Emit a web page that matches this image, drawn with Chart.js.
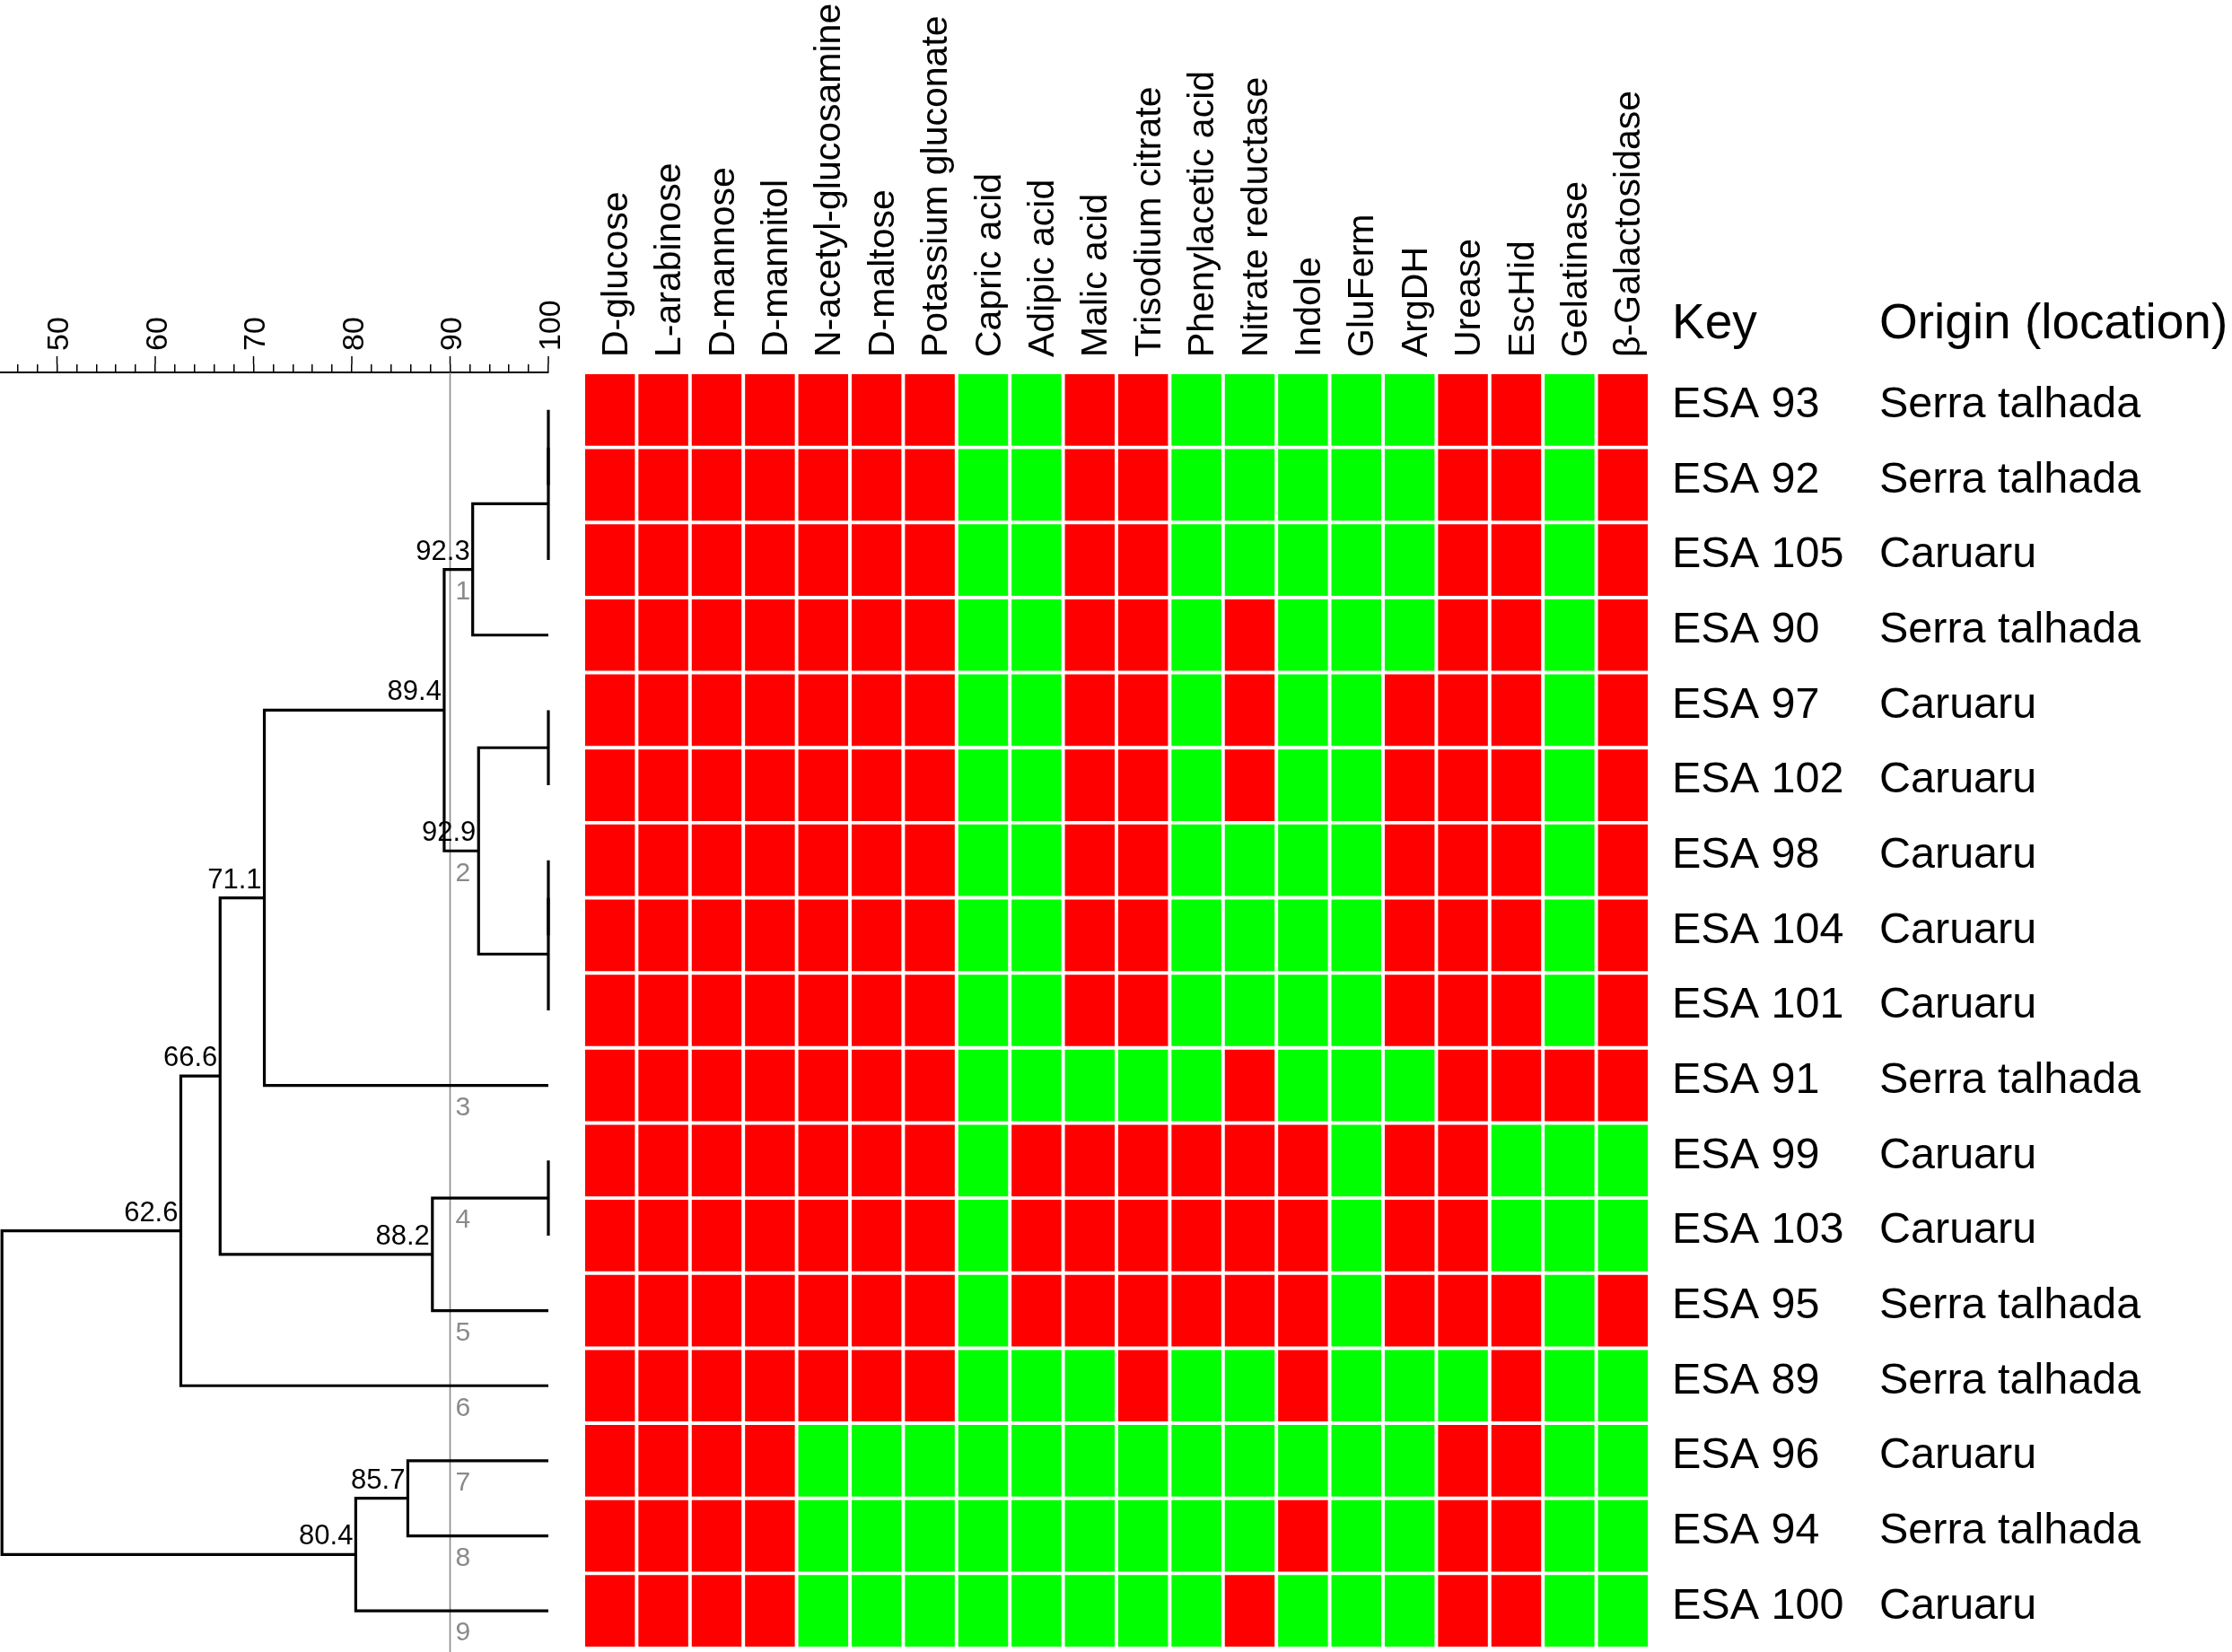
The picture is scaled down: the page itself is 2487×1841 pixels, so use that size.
<!DOCTYPE html>
<html>
<head>
<meta charset="utf-8">
<title>Biochemical profiles and UPGMA dendrogram</title>
<script src="https://cdn.jsdelivr.net/npm/chart.js@4.4.1/dist/chart.umd.min.js"></script>
<style>
  html, body { margin: 0; padding: 0; background: #fff; }
  #wrap { position: relative; width: 2487px; height: 1841px; }
  canvas { position: absolute; left: 0; top: 0; }
</style>
</head>
<body>
<div id="wrap">
  <canvas id="heat" width="2487" height="1841"></canvas>
  <canvas id="tree" width="650" height="1841"></canvas>
</div>
<script>
// ---- data ----
const tests = ["D-glucose", "L-arabinose", "D-mannose", "D-mannitol", "N-acetyl-glucosamine",
  "D-maltose", "Potassium gluconate", "Capric acid", "Adipic acid", "Malic acid",
  "Trisodium citrate", "Phenylacetic acid", "Nitrate reductase", "Indole", "GluFerm",
  "ArgDH", "Urease", "EscHid", "Gelatinase", "β-Galactosidase"];

const keys = ["ESA 93", "ESA 92", "ESA 105", "ESA 90", "ESA 97", "ESA 102", "ESA 98", "ESA 104",
  "ESA 101", "ESA 91", "ESA 99", "ESA 103", "ESA 95", "ESA 89", "ESA 96", "ESA 94", "ESA 100"];

const origins = ["Serra talhada", "Serra talhada", "Caruaru", "Serra talhada", "Caruaru", "Caruaru",
  "Caruaru", "Caruaru", "Caruaru", "Serra talhada", "Caruaru", "Caruaru", "Serra talhada",
  "Serra talhada", "Caruaru", "Serra talhada", "Caruaru"];

// one string per strain, one digit per test: 1 = red cell, 0 = green cell
const results = [
  "11111110011000001101", // ESA 93
  "11111110011000001101", // ESA 92
  "11111110011000001101", // ESA 105
  "11111110011010001101", // ESA 90
  "11111110011010011101", // ESA 97
  "11111110011010011101", // ESA 102
  "11111110011000011101", // ESA 98
  "11111110011000011101", // ESA 104
  "11111110011000011101", // ESA 101
  "11111110000010001111", // ESA 91
  "11111110111111011000", // ESA 99
  "11111110111111011000", // ESA 103
  "11111110111111011101", // ESA 95
  "11111110001001000100", // ESA 89
  "11110000000000001100", // ESA 96
  "11110000000001001100", // ESA 94
  "11110000000010001100"  // ESA 100
];

// dendrogram merges: [child a, child b, similarity %]; ids >= 17 are earlier merges
const merges = [
  [0, 1, 100], [17, 2, 100], [18, 3, 92.3],
  [4, 5, 100], [6, 7, 100], [21, 8, 100], [20, 22, 92.9],
  [19, 23, 89.4], [24, 9, 71.1],
  [10, 11, 100], [26, 12, 88.2], [25, 27, 66.6], [28, 13, 62.6],
  [14, 15, 85.7], [30, 16, 80.4],
  [29, 31, 44.4]
];

const axisTicks = [46, 48, 50, 52, 54, 56, 58, 60, 62, 64, 66, 68, 70, 72, 74, 76, 78, 80,
  82, 84, 86, 88, 90, 92, 94, 96, 98, 100];
const cutoff = 90;

// ---- setup ----
const FONT = '"Liberation Sans", Arial, Helvetica, sans-serif';
Chart.defaults.font.family = FONT;
Chart.defaults.color = "#000";

const RED = "#ff0000";
const GREEN = "#00ff00";
const TOP = 415;    // height of header band (axis labels)

// build tree nodes (y in row units, 0 = top)
const nodes = keys.map((k, i) => ({ sim: 100, y: i + 0.5, leaf: true }));
merges.forEach(([a, b, s]) => {
  const id = nodes.length;
  nodes.push({ a, b, sim: s, y: (nodes[a].y + nodes[b].y) / 2, leaf: false });
  nodes[a].parent = id;
  nodes[b].parent = id;
});
const rootId = nodes.length - 1;

// branches cut by the similarity cutoff -> cluster numbers
const clusters = nodes
  .filter(n => n.parent !== undefined && n.sim >= cutoff && nodes[n.parent].sim < cutoff)
  .sort((p, q) => p.y - q.y);

// ---- heatmap ----
const heatSets = results.map((row, r) => ({
  data: tests.map(() => [r, r + 1]),
  backgroundColor: row.split("").map(c => (c === "1" ? RED : GREEN)),
  borderColor: "#fff",
  borderWidth: 2.3,
  borderSkipped: false,
  grouped: false,
  barPercentage: 1,
  categoryPercentage: 1
}));

const headerText = {
  id: "headerText",
  afterDraw(chart) {
    const { ctx } = chart;
    const k = chart.scales.yKey;
    const o = chart.scales.yOrigin;
    ctx.save();
    ctx.font = "55px " + FONT;
    ctx.fillStyle = "#000";
    ctx.textBaseline = "alphabetic";
    ctx.textAlign = "left";
    ctx.fillText("Key", k.left + k.options.ticks.padding, chart.chartArea.top - 38);
    ctx.fillText("Origin (location)", o.left + o.options.ticks.padding, chart.chartArea.top - 38);
    ctx.restore();
  }
};

const noPad = s => { s.paddingTop = 0; s.paddingBottom = 0; s.paddingLeft = 0; s.paddingRight = 0; };

new Chart(document.getElementById("heat"), {
  type: "bar",
  data: { labels: tests, datasets: heatSets },
  options: {
    responsive: false,
    animation: false,
    events: [],
    layout: { padding: { left: 650, right: 0, top: 0, bottom: 4 } },
    plugins: { legend: { display: false }, tooltip: { enabled: false } },
    scales: {
      x: {
        type: "category",
        position: "top",
        offset: true,
        grid: { display: false, drawTicks: false },
        border: { display: false },
        ticks: { autoSkip: false, minRotation: 90, maxRotation: 90, padding: 17, labelOffset: 57,
                 font: { size: 41 }, color: "#000" },
        afterFit: s => { s.height = TOP; noPad(s); }
      },
      y: { type: "linear", display: false, min: 0, max: keys.length, reverse: true },
      yKey: {
        type: "category",
        labels: keys,
        position: "right",
        offset: true,
        weight: 0,
        grid: { display: false, drawTicks: false },
        border: { display: false },
        ticks: { autoSkip: false, padding: 25, labelOffset: -5, font: { size: 48.5 }, color: "#000" },
        afterFit: s => { s.width = 256; noPad(s); }
      },
      yOrigin: {
        type: "category",
        labels: origins,
        position: "right",
        offset: true,
        weight: 1,
        grid: { display: false, drawTicks: false },
        border: { display: false },
        ticks: { autoSkip: false, padding: 0, labelOffset: -5, font: { size: 48.5 }, color: "#000" },
        afterFit: s => { s.width = 393; noPad(s); }
      }
    }
  },
  plugins: [headerText]
});

// ---- dendrogram ----
const treeSets = nodes.filter(n => !n.leaf).map(n => ({
  data: [
    { x: nodes[n.a].sim, y: nodes[n.a].y },
    { x: n.sim, y: nodes[n.a].y },
    { x: n.sim, y: nodes[n.b].y },
    { x: nodes[n.b].sim, y: nodes[n.b].y }
  ],
  showLine: true,
  borderColor: "#000",
  borderWidth: 3.2,
  pointRadius: 0,
  tension: 0,
  clip: false,
  order: 0
}));

treeSets.push({
  data: [{ x: cutoff, y: 0 }, { x: cutoff, y: keys.length + 0.05 }],
  showLine: true,
  borderColor: "#8a8a8a",
  borderWidth: 1.6,
  pointRadius: 0,
  clip: false,
  order: 1
});

const treeText = {
  id: "treeText",
  afterDraw(chart) {
    const { ctx } = chart;
    const x = chart.scales.x;
    const y = chart.scales.y;

    ctx.save();
    // longer marks for every 10 %
    ctx.strokeStyle = "#000";
    ctx.lineWidth = 1.5;
    x.ticks.forEach(t => {
      if (t.value % 10 !== 0) return;
      const px = x.getPixelForValue(t.value);
      ctx.beginPath();
      ctx.moveTo(px, x.bottom - 9);
      ctx.lineTo(px, x.bottom - 18);
      ctx.stroke();
    });

    // node similarity values
    ctx.font = "31px " + FONT;
    ctx.fillStyle = "#000";
    ctx.textAlign = "right";
    ctx.textBaseline = "alphabetic";
    nodes.forEach((n, i) => {
      if (n.leaf || n.sim >= 100 || i === rootId) return;
      ctx.fillText(n.sim.toFixed(1), x.getPixelForValue(n.sim) - 3, y.getPixelForValue(n.y) - 11);
    });

    // cluster numbers at the cutoff
    ctx.font = "30px " + FONT;
    ctx.fillStyle = "#8a8a8a";
    ctx.textAlign = "left";
    ctx.textBaseline = "middle";
    clusters.forEach((n, i) => {
      ctx.fillText(String(i + 1), x.getPixelForValue(cutoff) + 6, y.getPixelForValue(n.y) + 25);
    });
    ctx.restore();
  }
};

new Chart(document.getElementById("tree"), {
  type: "scatter",
  data: { datasets: treeSets },
  options: {
    responsive: false,
    animation: false,
    events: [],
    layout: { padding: { left: 0, right: 39, top: 0, bottom: 4 } },
    plugins: { legend: { display: false }, tooltip: { enabled: false } },
    scales: {
      x: {
        type: "linear",
        position: "top",
        min: 44.2,
        max: 100,
        afterBuildTicks: s => { s.ticks = axisTicks.map(v => ({ value: v })); },
        afterFit: s => { s.height = TOP; noPad(s); },
        grid: { drawOnChartArea: false, drawTicks: true, tickLength: 9, color: "#000", lineWidth: 1.5 },
        border: { display: true, color: "#000", width: 2 },
        ticks: {
          autoSkip: false, minRotation: 90, maxRotation: 90, padding: 15, labelOffset: 44,
          font: { size: 34 }, color: "#000",
          callback: v => (v % 10 === 0 ? String(v) : "")
        }
      },
      y: { type: "linear", display: false, min: 0, max: keys.length, reverse: true }
    }
  },
  plugins: [treeText]
});
</script>
</body>
</html>
